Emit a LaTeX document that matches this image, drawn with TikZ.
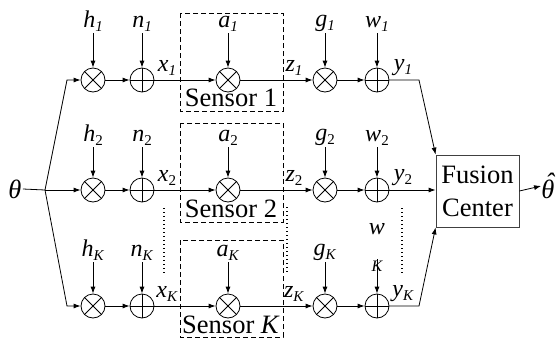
\documentclass[tikz,border=0pt]{standalone}
\usepackage{fontspec}
\setmainfont{Liberation Serif}
\usetikzlibrary{arrows.meta}
\newcommand\mylbl[2]{\textit{#1}\raisebox{-4pt}{\fontsize{15}{15}\selectfont #2}}
\begin{document}
\begin{tikzpicture}[x=1pt,y=-1pt,line width=0.8pt,
  every node/.style={inner sep=1pt},
  lab/.style={font=\fontsize{24}{26}\selectfont},
  big/.style={font=\fontsize{26.5}{33}\selectfont},
  mult/.style={circle,draw,minimum size=24pt,inner sep=0pt,
    path picture={\draw (path picture bounding box.north west)--(path picture bounding box.south east)
      (path picture bounding box.north east)--(path picture bounding box.south west);}},
  addr/.style={circle,draw,minimum size=24pt,inner sep=0pt,
    path picture={\draw (path picture bounding box.north)--(path picture bounding box.south)
      (path picture bounding box.east)--(path picture bounding box.west);}},
  arr/.style={-{Latex[length=7pt,width=5pt]}},
  dbox/.style={draw,dash pattern=on 5pt off 3pt,line width=0.7pt},
  dotl/.style={line width=1.1pt,dash pattern=on 1.2pt off 2.8pt}]
\useasboundingbox (0,0) rectangle (558,341);
% dashed sensor boxes
\draw[dbox] (180,13) rectangle (283,111);
\draw[dbox] (180,123) rectangle (283,222);
\draw[dbox] (180,240) rectangle (283,337);
% circles
\foreach \r/\y in {1/80,2/190,K/306}{
  \node[mult] (m\r) at (93,\y) {};
  \node[addr] (n\r) at (142,\y) {};
  \node[mult] (s\r) at (228,\y) {};
  \node[mult] (g\r) at (325,\y) {};
  \node[addr] (w\r) at (377,\y) {};
}
% top labels
\node[lab,anchor=south] (lh1) at (93,33) {\mylbl{h}{\textit{1}}};
\node[lab,anchor=south] (ln1) at (142,33) {\mylbl{n}{\textit{1}}};
\node[lab,anchor=south] (la1) at (228,33) {\mylbl{a}{\textit{1}}};
\node[lab,anchor=south] (lg1) at (325,33) {\mylbl{g}{\textit{1}}};
\node[lab,anchor=south] (lw1) at (377,33) {\mylbl{w}{\textit{1}}};
\node[lab,anchor=south] (lh2) at (93,147) {\mylbl{h}{2}};
\node[lab,anchor=south] (ln2) at (142,147) {\mylbl{n}{2}};
\node[lab,anchor=south] (la2) at (228,147) {\mylbl{a}{2}};
\node[lab,anchor=south] (lg2) at (325,147) {\mylbl{g}{2}};
\node[lab,anchor=south] (lw2) at (377,147) {\mylbl{w}{2}};
\node[lab,anchor=south] (lhK) at (93,262) {\mylbl{h}{\textit{K}}};
\node[lab,anchor=south] (lnK) at (142,262) {\mylbl{n}{\textit{K}}};
\node[lab,anchor=south] (laK) at (228,262) {\mylbl{a}{\textit{K}}};
\node[lab,anchor=south] (lgK) at (325,262) {\mylbl{g}{\textit{K}}};
\node[lab] (lwK) at (377,229) {\textit{w}};
\node[font=\fontsize{16}{16}\selectfont\itshape] (lwKs) at (377,266) {K};
\foreach \r in {1,2}{
  \draw[arr] (lh\r.south) -- (m\r.north);
  \draw[arr] (ln\r.south) -- (n\r.north);
  \draw[arr] (la\r.south) -- (s\r.north);
  \draw[arr] (lg\r.south) -- (g\r.north);
  \draw[arr] (lw\r.south) -- (w\r.north);
}
\draw[arr] (lhK.south) -- (mK.north);
\draw[arr] (lnK.south) -- (nK.north);
\draw[arr] (laK.south) -- (sK.north);
\draw[arr] (lgK.south) -- (gK.north);
\draw[arr] (lwKs.north) -- (wK.north);
% signal labels
\foreach \r/\y/\s in {1/68/\textit{1},2/178/2,K/294/\textit{K}}{
  \node[lab] (x\r) at (167,\y) {\mylbl{x}{\s}};
  \node[lab] (z\r) at (294,\y) {\mylbl{z}{\s}};
  \node[lab] (y\r) at (403,\y) {\mylbl{y}{\s}};
}
% sensor texts
\node[big] (t1) at (231,98) {Sensor 1};
\node[big] (t2) at (231,209) {Sensor 2};
\node[big] (tK) at (231,325) {Sensor \textit{K}};
% theta and split
\node[big] (th) at (15,189) {\textit{θ}};
\coordinate (sp) at (45,190);
\coordinate (c1) at (67,80);
\coordinate (cK) at (67,306);
\draw (th.east) -- (sp);
\draw[arr] (sp) -- (c1) -- (m1.west);
\draw[arr] (sp) -- (m2.west);
\draw[arr] (sp) -- (cK) -- (mK.west);
% chains
\foreach \r in {1,2,K}{
  \draw[arr] (m\r) -- (n\r);
  \draw[arr] (n\r) -- (s\r);
  \draw[arr] (s\r) -- (g\r);
  \draw[arr] (g\r) -- (w\r);
}
% fusion
\node[big,draw=black!75,minimum width=83pt,minimum height=72pt,align=center,inner sep=0pt] (fc) at (477.5,191) {Fusion\\Center};
\coordinate (d1) at (419,80);
\coordinate (dK) at (419,306);
\draw[arr] (w1.east) -- (d1) -- (fc.north west);
\draw[arr] (w2.east) -- (fc.west |- w2);
\draw[arr] (wK.east) -- (dK) -- (fc.south west);
\node[big,inner sep=0pt] (thh) at (548,186) {\itshape\accent"02C6 θ};
\draw[arr] (fc.east) -- (thh.west);
% dotted lines
\draw[dotl] (164,208) -- (164,273);
\draw[dotl] (287,207) -- (287,273);
\draw[dotl] (402,208) -- (402,273);
\end{tikzpicture}
\end{document}
